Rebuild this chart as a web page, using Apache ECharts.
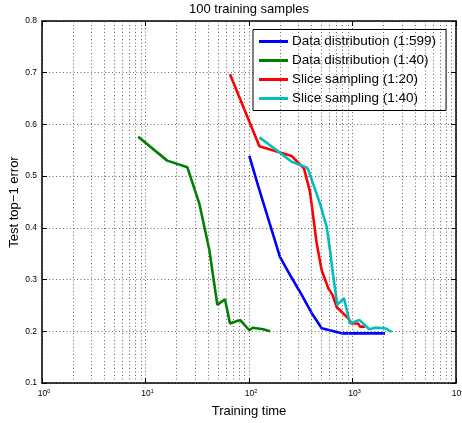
<!DOCTYPE html>
<html><head><meta charset="utf-8">
<script src="https://cdn.jsdelivr.net/npm/echarts@6/dist/echarts.min.js"></script>
<style>html,body{margin:0;padding:0;background:#fff}#c{width:462px;height:423px}</style>
</head><body><div id="c"></div>
<script>
const seriesNames = ['Data distribution (1:599)', 'Data distribution (1:40)', 'Slice sampling (1:20)', 'Slice sampling (1:40)'];
const blueX = [100.7, 123, 199, 249, 311, 404, 504, 786, 2061];
const blueY = [0.539, 0.480, 0.344, 0.309, 0.276, 0.235, 0.206, 0.196, 0.196];
const greenX = [8.5, 16.2, 25.4, 33.1, 41.4, 49.4, 58.6, 65.5, 81.9, 100.7, 108.6, 137, 160];
const greenY = [0.576, 0.530, 0.517, 0.447, 0.357, 0.251, 0.262, 0.215, 0.222, 0.202, 0.207, 0.204, 0.200];
const redX = [65.5, 126, 258, 340, 388, 451, 504, 584, 643, 703, 910, 983, 1138, 1180, 1320];
const redY = [0.697, 0.558, 0.539, 0.515, 0.470, 0.370, 0.318, 0.283, 0.270, 0.247, 0.225, 0.215, 0.215, 0.209, 0.209];
const cyanX = [126, 185, 258, 361, 374, 485, 563, 606, 653, 713, 827, 946, 1164, 1452, 1648, 2061, 2393];
const cyanY = [0.575, 0.550, 0.528, 0.517, 0.512, 0.447, 0.402, 0.357, 0.305, 0.251, 0.264, 0.215, 0.222, 0.204, 0.207, 0.206, 0.199];
const minorGridX = [2,3,4,5,6,7,8,9,20,30,40,50,60,70,80,90,200,300,400,500,600,700,800,900,2000,3000,4000,5000,6000,7000,8000,9000];

const FONT = '"Liberation Sans", Arial, Helvetica, sans-serif';
const colors = ['#0000ff', '#008000', '#ff0000', '#00bfbf'];
const pairs = (xs, ys) => xs.map((x, i) => [x, ys[i]]);
const dataSets = [pairs(blueX, blueY), pairs(greenX, greenY), pairs(redX, redY), pairs(cyanX, cyanY)];
const gridDash = { color: '#666', width: 1, type: [1, 2.5] };

const chart = echarts.init(document.getElementById('c'), null, { renderer: 'canvas' });
const option = {
  animation: false,
  textStyle: { fontFamily: FONT },
  title: {
    text: '100 training samples', left: 249, top: 3, padding: 0, textAlign: 'center',
    textStyle: { fontSize: 13, fontWeight: 'normal', color: '#000', fontFamily: FONT }
  },
  legend: {
    orient: 'vertical', left: 253, top: 29.5,
    backgroundColor: '#fff', borderColor: '#000', borderWidth: 1,
    padding: [5, 10, 5, 6], itemGap: 5,
    itemWidth: 29, itemHeight: 3, icon: 'rect',
    textStyle: { fontSize: 13.5, color: '#000', fontFamily: FONT, padding: [0, 0, 0, -1] },
    data: seriesNames
  },
  grid: { left: 42, right: 6, top: 21, bottom: 40, containLabel: false, outerBoundsMode: 'none' },
  xAxis: [{
    type: 'log', logBase: 10, min: 1, max: 10000,
    name: 'Training time', nameLocation: 'middle', nameGap: 22,
    nameTextStyle: { fontSize: 13, color: '#000', fontFamily: FONT },
    axisLine: { show: true, onZero: false, lineStyle: { color: '#000', width: 1.5 } },
    axisTick: { show: true, inside: true, length: 5, lineStyle: { color: '#000' } },
    axisLabel: {
      margin: 5, color: '#000',
      formatter: v => '{b|10}{s|' + Math.round(Math.log10(v)) + '}',
      rich: {
        b: { fontSize: 8.5, fontFamily: FONT, color: '#000', lineHeight: 12, padding: [0, 0, 0, 4] },
        s: { fontSize: 5.5, fontFamily: FONT, color: '#000', verticalAlign: 'top', lineHeight: 8 }
      }
    },
    splitLine: { show: true, lineStyle: gridDash }
  }, {
    type: 'log', logBase: 10, min: 1, max: 10000, position: 'top',
    axisLine: { show: true, onZero: false, lineStyle: { color: '#000', width: 1.5 } },
    axisTick: { show: true, inside: true, length: 5, lineStyle: { color: '#000' } },
    axisLabel: { show: false }, splitLine: { show: false }
  }],
  yAxis: [{
    type: 'value', min: 0.1, max: 0.8, interval: 0.1,
    name: 'Test top\u22121 error', nameLocation: 'middle', nameGap: 21, nameRotate: 90,
    nameMoveOverlap: false,
    nameTextStyle: { fontSize: 13, color: '#000', fontFamily: FONT },
    axisLine: { show: true, onZero: false, lineStyle: { color: '#000', width: 1.5 } },
    axisTick: { show: true, inside: true, length: 5, lineStyle: { color: '#000' } },
    axisLabel: { margin: 5, fontSize: 8.5, color: '#000', fontFamily: FONT, formatter: v => v.toFixed(1) },
    splitLine: { show: true, lineStyle: gridDash }
  }, {
    type: 'value', min: 0.1, max: 0.8, interval: 0.1, position: 'right',
    axisLine: { show: true, onZero: false, lineStyle: { color: '#000', width: 1.5 } },
    axisTick: { show: true, inside: true, length: 5, lineStyle: { color: '#000' } },
    axisLabel: { show: false }, splitLine: { show: false }
  }],
  series: [{
    type: 'line', name: '_grid', data: [], silent: true, z: 1,
    markLine: {
      silent: true, symbol: ['none', 'none'], label: { show: false },
      lineStyle: gridDash, emphasis: { disabled: true },
      data: minorGridX.map(v => ({ xAxis: v }))
    }
  }].concat(seriesNames.map((n, i) => ({
    type: 'line', name: n, data: dataSets[i], showSymbol: false, symbol: 'none',
    z: 3, color: colors[i],
    lineStyle: { color: colors[i], width: 2.6 }
  })))
};
chart.setOption(option);
</script></body></html>
